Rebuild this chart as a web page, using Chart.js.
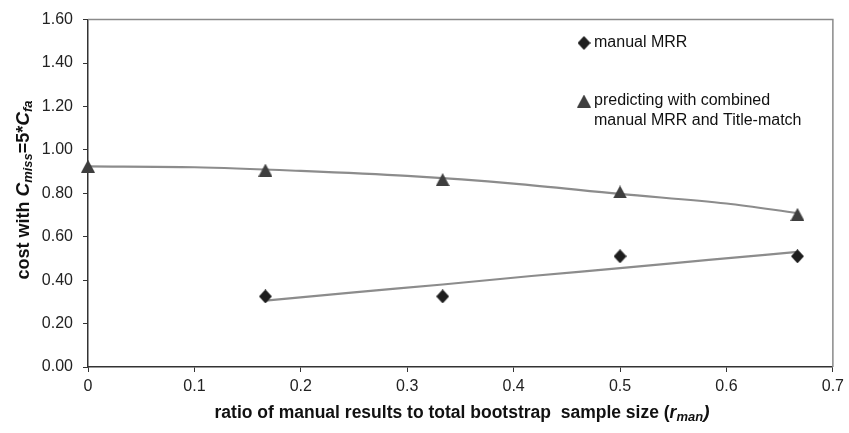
<!DOCTYPE html>
<html>
<head>
<meta charset="utf-8">
<title>cost vs ratio of manual results</title>
<script src="https://cdn.jsdelivr.net/npm/chart.js@4/dist/chart.umd.min.js"></script>
<style>
  html, body { margin: 0; padding: 0; background: #fff; }
  #wrap { width: 849px; height: 433px; }
</style>
</head>
<body>
<div id="wrap"><canvas id="chart" width="849" height="433"></canvas></div>
<script>
// Data
const manualX = [0.1667, 0.3333, 0.5, 0.6667];
const manualCost = [0.325, 0.325, 0.51, 0.51];

const combinedX = [0, 0.1667, 0.3333, 0.5, 0.6667];
const combinedCost = [0.925, 0.907, 0.863, 0.806, 0.703];

// trend lines as drawn in the picture
const manualTrendX = [0.1667, 0.25, 0.3333, 0.4167, 0.5, 0.5833, 0.6667];
const manualTrendCost = [0.306, 0.344, 0.380, 0.419, 0.455, 0.493, 0.530];

const combinedTrendX = [0, 0.1, 0.2, 0.3, 0.4, 0.5, 0.6, 0.6667];
const combinedTrendCost = [0.924, 0.920, 0.903, 0.880, 0.845, 0.797, 0.753, 0.709];

const xTicks = [0, 0.1, 0.2, 0.3, 0.4, 0.5, 0.6, 0.7];
const yTicks = [0, 0.2, 0.4, 0.6, 0.8, 1.0, 1.2, 1.4, 1.6];

const FONT = "'Liberation Sans', Arial, sans-serif";
const markerDark = '#1e1e1e';
const markerGray = '#3e3e3e';
const trendColor = '#8c8c8c';

function toPoints(xs, ys) {
    return xs.map((x, i) => ({ x: x, y: ys[i] }));
}

// small canvases used as point styles
function makeDiamond(w, h, color) {
    const c = document.createElement('canvas');
    c.width = w; c.height = h;
    const g = c.getContext('2d');
    g.fillStyle = color;
    g.beginPath();
    g.moveTo(w / 2, 0);
    g.lineTo(w, h / 2);
    g.lineTo(w / 2, h);
    g.lineTo(0, h / 2);
    g.closePath();
    g.fill();
    return c;
}

function makeTriangle(w, h, color) {
    const c = document.createElement('canvas');
    c.width = w; c.height = h;
    const g = c.getContext('2d');
    g.fillStyle = color;
    g.beginPath();
    g.moveTo(w / 2, 0);
    g.lineTo(w, h);
    g.lineTo(0, h);
    g.closePath();
    g.fill();
    return c;
}

const diamondImg = makeDiamond(13, 14, markerDark);
const triangleImg = makeTriangle(14, 13, markerGray);

// draw a line of text made of runs (sub/normal/italic)
function drawRuns(ctx, runs, cx, baseY) {
    let total = 0;
    runs.forEach(r => { ctx.font = r.font; total += ctx.measureText(r.text).width; });
    let x = cx - total / 2;
    ctx.textAlign = 'left';
    ctx.textBaseline = 'alphabetic';
    runs.forEach(r => {
        ctx.font = r.font;
        ctx.fillText(r.text, x, baseY + (r.dy || 0));
        x += ctx.measureText(r.text).width;
    });
}

const yTitleRuns = [
    { text: 'cost with ', font: 'bold 18px ' + FONT },
    { text: 'C', font: 'italic bold 19px ' + FONT },
    { text: 'miss', font: 'italic bold 13px ' + FONT, dy: 3 },
    { text: '=5*', font: 'bold 18px ' + FONT },
    { text: 'C', font: 'italic bold 19px ' + FONT },
    { text: 'fa', font: 'italic bold 13px ' + FONT, dy: 3 }
];

const xTitleRuns = [
    { text: 'ratio of manual results to total bootstrap  sample size (', font: 'bold 17.5px ' + FONT },
    { text: 'r', font: 'italic bold 17.5px ' + FONT },
    { text: 'man', font: 'italic bold 13px ' + FONT, dy: 3 },
    { text: ')', font: 'italic bold 19px ' + FONT }
];

const decorPlugin = {
    id: 'decor',
    afterDraw(chart) {
        const ctx = chart.ctx;
        const a = chart.chartArea;
        ctx.save();

        // top and right frame
        ctx.strokeStyle = '#8a8a8a';
        ctx.lineWidth = 1.5;
        ctx.beginPath();
        ctx.moveTo(a.left, a.top);
        ctx.lineTo(a.right, a.top);
        ctx.lineTo(a.right, a.bottom);
        ctx.stroke();

        // axis titles
        ctx.fillStyle = '#111';
        drawRuns(ctx, xTitleRuns, 462, 418);
        ctx.save();
        ctx.translate(29, 190);
        ctx.rotate(-Math.PI / 2);
        drawRuns(ctx, yTitleRuns, 0, 0);
        ctx.restore();

        // legend
        ctx.font = '16px ' + FONT;
        ctx.textAlign = 'left';
        ctx.textBaseline = 'middle';
        ctx.fillStyle = '#111';
        ctx.drawImage(diamondImg, 584 - 6.5, 43 - 7);
        ctx.fillText('manual MRR', 594, 43);
        ctx.drawImage(triangleImg, 584 - 7, 101 - 6.5);
        ctx.fillText('predicting with combined', 594, 101);
        ctx.fillText('manual MRR and Title-match', 594, 121);

        ctx.restore();
    }
};

const ctx = document.getElementById('chart');

new Chart(ctx, {
    type: 'scatter',
    data: {
        datasets: [
            {
                label: 'manual MRR',
                data: toPoints(manualX, manualCost),
                pointStyle: diamondImg,
                pointRadius: 7,
                showLine: false,
                clip: false
            },
            {
                label: 'predicting with combined manual MRR and Title-match',
                data: toPoints(combinedX, combinedCost),
                pointStyle: triangleImg,
                pointRadius: 7,
                showLine: false,
                clip: false
            },
            {
                label: 'trend manual',
                data: toPoints(manualTrendX, manualTrendCost),
                showLine: true,
                borderColor: trendColor,
                borderWidth: 2.2,
                pointRadius: 0,
                tension: 0.3,
                cubicInterpolationMode: 'monotone'
            },
            {
                label: 'trend combined',
                data: toPoints(combinedTrendX, combinedTrendCost),
                showLine: true,
                borderColor: trendColor,
                borderWidth: 2.2,
                pointRadius: 0,
                tension: 0.3,
                cubicInterpolationMode: 'monotone'
            }
        ]
    },
    options: {
        responsive: false,
        animation: false,
        devicePixelRatio: 1,
        layout: {
            padding: { left: 0, top: 15, right: 13, bottom: 0 }
        },
        plugins: {
            legend: { display: false },
            tooltip: { enabled: false }
        },
        scales: {
            x: {
                type: 'linear',
                min: 0,
                max: 0.7,
                afterBuildTicks: scale => {
                    scale.ticks = xTicks.map(v => ({ value: v }));
                },
                afterFit: scale => { scale.height = 66; },
                border: { color: '#333', width: 1.5 },
                grid: { drawOnChartArea: false, drawTicks: true, tickLength: 5, tickColor: '#333' },
                ticks: {
                    padding: 5,
                    color: '#222',
                    font: { family: FONT, size: 16 },
                    maxRotation: 0,
                    callback: v => String(Math.round(v * 10) / 10)
                }
            },
            y: {
                type: 'linear',
                min: 0,
                max: 1.6,
                afterBuildTicks: scale => {
                    scale.ticks = yTicks.map(v => ({ value: v }));
                },
                afterFit: scale => { scale.width = 88; },
                border: { color: '#333', width: 1.5 },
                grid: { drawOnChartArea: false, drawTicks: true, tickLength: 5, tickColor: '#333' },
                ticks: {
                    padding: 10,
                    color: '#222',
                    font: { family: FONT, size: 16 },
                    callback: v => v.toFixed(2)
                }
            }
        }
    },
    plugins: [decorPlugin]
});
</script>
</body>
</html>
